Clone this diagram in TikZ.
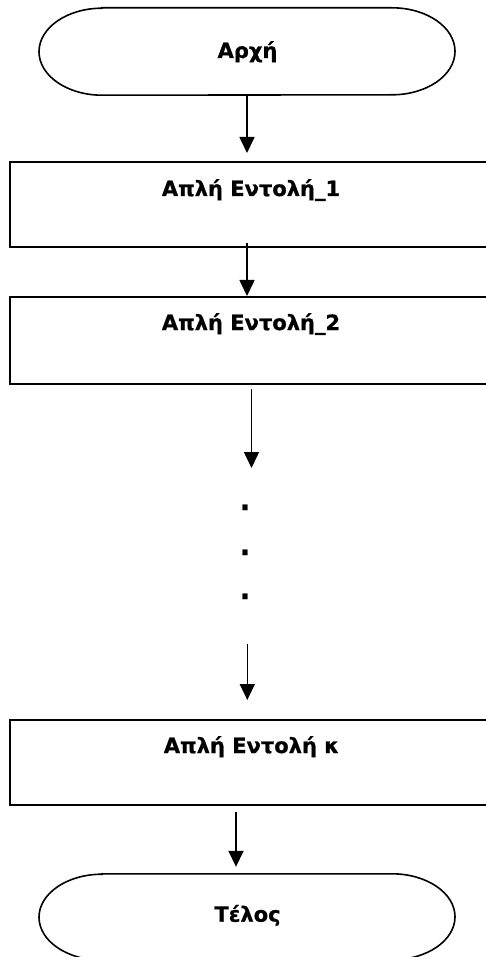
\documentclass[tikz,border=0pt]{standalone}
\usepackage{fontspec}
\usetikzlibrary{arrows.meta}
\newfontfamily\lblfont{DejaVu Sans}[BoldFeatures={FakeBold=0.8}]
\tikzset{
  lbl/.style={font=\lblfont\bfseries\fontsize{21}{25}\selectfont, inner sep=0pt, anchor=base},
  dotlbl/.style={lbl, font=\lblfont\bfseries\fontsize{28}{30}\selectfont},
  flowbox/.style={draw, line width=2pt, rectangle, minimum width=490pt, minimum height=85pt, anchor=north west, inner sep=0pt},
  term/.style={line width=1.6pt},
  arr/.style={line width=1.6pt, -{Triangle[width=15pt,length=16pt]}},
}
\begin{document}
\begin{tikzpicture}[x=1pt,y=1pt]
  \useasboundingbox (0,0) rectangle (486,-957);
  \clip (0,0) rectangle (486,-957);

  % start terminal
  \node[inner sep=0pt, minimum width=416pt, minimum height=87pt] (start) at (247,-51.5) {};
  \draw[term] ([xshift=-145pt]start.north) -- ([xshift=145pt]start.north)
     arc[start angle=90, end angle=-90, x radius=63, y radius=43.5]
     -- ([xshift=-145pt]start.south)
     arc[start angle=270, end angle=90, x radius=63, y radius=43.5] -- cycle;
  \node[lbl] (tstart) at (247.5,-58) {Αρχή};

  % process boxes
  \node[flowbox] (box1) at (9,-161) {};
  \node[lbl] (t1) at (251,-196) {Απλή Εντολή\_1};

  \node[flowbox, minimum height=87pt] (box2) at (9,-296) {};
  \node[lbl] (t2) at (251,-330) {Απλή Εντολή\_2};

  % ellipsis dots
  \node[dotlbl] (d1) at (245,-510) {.};
  \node[dotlbl] (d2) at (245,-555) {.};
  \node[dotlbl] (d3) at (245,-599) {.};

  \node[flowbox] (boxk) at (9,-719) {};
  \node[lbl] (tk) at (251.5,-753) {Απλή Εντολή κ};

  % end terminal
  \node[inner sep=0pt, minimum width=416pt, minimum height=86pt] (stop) at (247,-917) {};
  \draw[term] ([xshift=-145pt]stop.north) -- ([xshift=145pt]stop.north)
     arc[start angle=90, end angle=-90, x radius=63, y radius=43]
     -- ([xshift=-145pt]stop.south)
     arc[start angle=270, end angle=90, x radius=63, y radius=43] -- cycle;
  \node[lbl] (tstop) at (247.5,-921.7) {Τέλος};

  % connectors
  \coordinate (a1e) at ([yshift=8pt]box1.north -| start.south);
  \draw[arr] (start.south) -- (a1e);
  \coordinate (a2s) at ([yshift=5pt]box1.south -| start.south);
  \draw[arr] (a2s) -- (box2.north -| start.south);
  \coordinate (a3s) at ([xshift=4.5pt,yshift=-4pt]box2.south -| start.south);
  \coordinate (a3e) at ([yshift=-79pt]a3s);
  \draw[arr] (a3s) -- (a3e);
  \coordinate (a4s) at (247.3,-644);
  \draw[arr] (a4s) -- ([yshift=19pt]boxk.north -| a4s);
  \coordinate (a5s) at ([xshift=-11pt,yshift=-6pt]boxk.south -| start.south);
  \draw[arr] (a5s) -- ([yshift=7pt]stop.north -| a5s);
\end{tikzpicture}
\end{document}
